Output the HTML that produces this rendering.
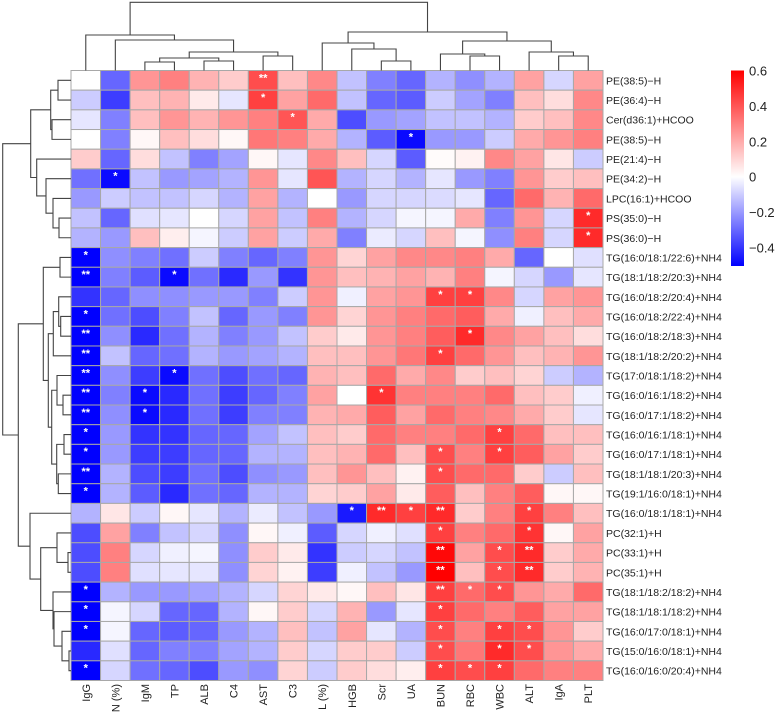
<!DOCTYPE html>
<html><head><meta charset="utf-8"><style>
html,body{margin:0;padding:0;background:#fff;}
svg{display:block;font-family:"Liberation Sans",Arial,sans-serif;}
</style></head><body>
<svg id="chart" width="778" height="718" viewBox="0 0 778 718" xmlns="http://www.w3.org/2000/svg">
<g id="cells"></g>
<g id="stars"></g>
<g id="collabels"></g>
<g id="rowlabels"></g>
<g id="coldendro"></g>
<g id="rowdendro"></g>
<g id="legend"></g>
</svg>
<script>
const columns = ["IgG","N (%)","IgM","TP","ALB","C4","AST","C3","L (%)","HGB","Scr","UA","BUN","RBC","WBC","ALT","IgA","PLT"];
const rows = ["PE(38:5)−H","PE(36:4)−H","Cer(d36:1)+HCOO","PE(38:5)−H","PE(21:4)−H","PE(34:2)−H","LPC(16:1)+HCOO","PS(35:0)−H","PS(36:0)−H",
"TG(16:0/18:1/22:6)+NH4","TG(18:1/18:2/20:3)+NH4","TG(16:0/18:2/20:4)+NH4","TG(16:0/18:2/22:4)+NH4","TG(16:0/18:2/18:3)+NH4","TG(18:1/18:2/20:2)+NH4",
"TG(17:0/18:1/18:2)+NH4","TG(16:0/16:1/18:2)+NH4","TG(16:0/17:1/18:2)+NH4","TG(16:0/16:1/18:1)+NH4","TG(16:0/17:1/18:1)+NH4","TG(18:1/18:1/20:3)+NH4",
"TG(19:1/16:0/18:1)+NH4","TG(16:0/18:1/18:1)+NH4","PC(32:1)+H","PC(33:1)+H","PC(35:1)+H","TG(18:1/18:2/18:2)+NH4","TG(18:1/18:1/18:2)+NH4",
"TG(16:0/17:0/18:1)+NH4","TG(15:0/16:0/18:1)+NH4","TG(16:0/16:0/20:4)+NH4"];
const values = [
[0.0,-0.3,0.25,0.3,0.18,0.12,0.42,0.15,0.28,-0.12,-0.25,-0.3,-0.15,-0.22,-0.15,0.22,-0.08,0.22],
[-0.1,-0.38,0.15,0.18,0.05,-0.05,0.45,0.22,0.35,-0.12,-0.3,-0.32,-0.1,-0.18,-0.25,0.15,0.08,0.28],
[-0.05,-0.25,0.15,0.25,0.18,0.25,0.3,0.4,0.2,-0.35,-0.2,-0.18,-0.12,-0.12,-0.15,0.12,0.15,0.28],
[0.0,-0.25,0.02,0.15,0.08,0.02,0.32,0.3,0.2,-0.15,-0.32,-0.48,-0.2,-0.2,-0.1,0.2,0.25,0.3],
[0.12,-0.3,0.08,-0.12,-0.25,-0.18,0.02,-0.05,0.28,0.15,-0.08,-0.32,0.01,0.03,0.28,0.22,0.06,-0.1],
[-0.28,-0.48,-0.12,-0.2,-0.18,-0.15,0.25,-0.05,0.4,-0.15,-0.08,-0.15,-0.05,-0.2,-0.25,0.25,0.12,0.15],
[-0.2,-0.1,-0.12,-0.12,-0.08,-0.15,0.22,-0.15,0.0,-0.2,-0.08,-0.08,-0.07,-0.05,-0.3,0.35,0.18,0.35],
[-0.12,-0.3,-0.06,-0.05,0.0,-0.08,0.22,-0.12,0.3,-0.15,-0.08,-0.02,-0.02,0.2,-0.25,0.25,-0.08,0.5],
[-0.15,-0.2,0.15,0.04,-0.02,-0.1,0.22,-0.1,0.2,-0.25,-0.04,-0.08,0.15,-0.02,-0.22,0.3,-0.08,0.5],
[-0.5,-0.22,-0.25,-0.28,-0.1,-0.25,-0.3,-0.25,0.25,0.1,0.22,0.28,0.28,0.3,0.2,-0.3,0.0,-0.06],
[-0.55,-0.25,-0.32,-0.48,-0.28,-0.42,-0.2,-0.4,0.25,0.15,0.18,0.22,0.18,0.3,-0.02,-0.08,-0.2,-0.05],
[-0.4,-0.3,-0.22,-0.22,-0.2,-0.2,-0.25,-0.1,0.25,-0.03,0.22,0.25,0.45,0.45,0.28,-0.08,0.22,0.25],
[-0.55,-0.28,-0.35,-0.25,-0.12,-0.3,-0.2,-0.25,0.25,0.1,0.25,0.3,0.35,0.38,0.2,-0.03,0.15,0.2],
[-0.55,-0.22,-0.42,-0.28,-0.15,-0.25,-0.2,-0.12,0.12,0.05,0.25,0.3,0.38,0.5,0.28,0.22,0.15,0.08],
[-0.55,-0.12,-0.3,-0.28,-0.15,-0.2,-0.18,-0.15,0.15,0.15,0.25,0.32,0.45,0.35,0.25,0.15,0.18,0.25],
[-0.55,-0.22,-0.38,-0.48,-0.28,-0.35,-0.28,-0.3,0.18,0.15,0.35,0.2,0.28,0.12,0.15,0.1,-0.1,-0.15],
[-0.55,-0.25,-0.48,-0.42,-0.28,-0.38,-0.3,-0.25,0.22,0.0,0.48,0.3,0.3,0.3,0.35,0.15,0.12,-0.03],
[-0.55,-0.22,-0.48,-0.42,-0.28,-0.38,-0.25,-0.25,0.18,0.2,0.38,0.22,0.35,0.3,0.28,0.2,0.12,-0.05],
[-0.52,-0.2,-0.4,-0.4,-0.3,-0.3,-0.18,-0.12,0.15,0.12,0.35,0.3,0.3,0.35,0.45,0.35,0.15,0.15],
[-0.52,-0.2,-0.38,-0.38,-0.3,-0.3,-0.15,-0.15,0.15,0.18,0.35,0.15,0.42,0.3,0.45,0.38,0.22,0.12],
[-0.55,-0.15,-0.35,-0.38,-0.28,-0.35,-0.22,-0.2,0.15,0.25,0.15,0.03,0.42,0.35,0.35,0.12,-0.1,0.15],
[-0.52,-0.15,-0.32,-0.42,-0.28,-0.3,-0.15,-0.15,0.1,0.12,0.22,0.05,0.38,0.15,0.3,0.38,0.02,0.02],
[-0.15,0.06,-0.1,0.02,-0.05,-0.15,-0.04,-0.12,-0.2,-0.45,0.5,0.45,0.5,0.12,0.3,0.45,0.3,0.15],
[-0.35,0.22,-0.25,-0.12,-0.08,-0.22,0.02,-0.03,-0.32,-0.08,-0.03,-0.06,0.45,0.3,0.35,0.48,0.02,0.22],
[-0.35,0.3,-0.08,-0.03,-0.02,-0.22,0.12,0.05,-0.4,-0.1,-0.08,-0.12,0.58,0.22,0.42,0.5,0.12,0.2],
[-0.35,0.3,-0.06,-0.05,-0.05,-0.22,0.1,0.03,-0.38,-0.03,-0.12,-0.2,0.6,0.15,0.42,0.5,0.12,0.18],
[-0.52,-0.15,-0.2,-0.2,-0.18,-0.15,-0.08,0.1,0.05,0.02,0.15,0.06,0.45,0.35,0.42,0.25,0.2,0.35],
[-0.52,-0.02,-0.08,-0.3,-0.3,-0.15,0.02,0.12,-0.08,0.18,-0.2,-0.05,0.45,0.35,0.3,0.38,0.22,0.22],
[-0.52,-0.02,-0.3,-0.32,-0.3,-0.2,-0.15,0.15,-0.12,0.22,-0.05,-0.15,0.42,0.3,0.45,0.42,0.25,0.12],
[-0.42,-0.06,-0.3,-0.25,-0.25,-0.18,-0.15,0.12,-0.08,0.12,0.12,-0.1,0.42,0.32,0.5,0.42,0.25,0.2],
[-0.52,-0.08,-0.28,-0.3,-0.35,-0.2,-0.22,0.1,-0.1,0.12,0.08,0.04,0.45,0.42,0.45,0.35,0.3,0.3]
];
// significance marks: "row,col,mark"
const stars = ["0,6,**","1,6,*","2,7,*","3,11,*","5,1,*","7,17,*","8,17,*",
"9,0,*","10,0,**","10,3,*","11,12,*","11,13,*","12,0,*","13,0,**","13,13,*","14,0,**","14,12,*",
"15,0,**","15,3,*","16,0,**","16,2,*","16,10,*","17,0,**","17,2,*","18,0,*","18,14,*","19,0,*","19,12,*","19,14,*",
"20,0,**","20,12,*","21,0,*","22,9,*","22,10,**","22,11,*","22,12,**","22,15,*","23,12,*","23,15,*",
"24,12,**","24,14,*","24,15,**","25,12,**","25,14,*","25,15,**","26,0,*","26,12,**","26,13,*","26,14,*",
"27,0,*","27,12,*","28,0,*","28,12,*","28,14,*","28,15,*","29,12,*","29,14,*","29,15,*","30,0,*","30,12,*","30,13,*","30,14,*"];
// dendrogram merges: [childA, childB, position]
const colMerges = [[2,3,62],[4,5,61],[18,19,58],[6,7,56],[20,21,52],[1,22,40],[0,23,35],[10,11,61],[9,25,49],[8,26,43],[13,14,56],[12,28,54],[16,17,56],[15,30,52],[29,31,41],[27,32,32],[24,33,2.3]];
const rowMerges = [[0,1,58],[2,3,52],[31,32,50.7],[7,8,59],[6,34,53],[5,35,46],[4,36,36.7],[33,37,30.7],[9,10,60],[12,13,60.7],[11,40,58.7],[41,14,53.3],[16,17,63],[15,43,57],[18,19,64],[20,21,58.3],[45,46,56.7],[44,47,51.7],[42,48,48.3],[39,49,43.3],[24,25,68],[23,51,57],[29,30,69],[28,53,62],[27,54,54],[26,55,53],[52,56,40.7],[22,57,30],[50,58,18.3],[38,59,2.7]];
const legendTicks = [0.6,0.4,0.2,0,-0.2,-0.4];

const NS="http://www.w3.org/2000/svg";
const X0=71,X1=603,Y0=70.5,Y1=680.5;
const cw=(X1-X0)/columns.length, rh=(Y1-Y0)/rows.length;
const xc=i=>X0+cw*(i+0.5), yc=i=>Y0+rh*(i+0.5);
function color(v){
  let r,g,b;
  if(v>=0){const t=Math.min(v/0.6,1);r=255;g=Math.round(255*(1-t));b=g;}
  else{const t=Math.min(-v/0.5,1);b=255;r=Math.round(255*(1-t));g=r;}
  return `rgb(${r},${g},${b})`;
}
function mk(tag,attrs,parent){const e=document.createElementNS(NS,tag);for(const k in attrs)e.setAttribute(k,attrs[k]);parent.appendChild(e);return e;}

const cellsG=document.getElementById('cells');
values.forEach((row,i)=>row.forEach((v,j)=>{
  const r=mk('rect',{x:X0+cw*j,y:Y0+rh*i,width:cw,height:rh,fill:color(v),stroke:'#a8a8a8','stroke-width':1},cellsG);
  
  
}));
const starG=document.getElementById('stars');
stars.forEach(s=>{
  const [ri,ci,m]=s.split(',');
  const t=mk('text',{x:xc(+ci),y:yc(+ri)+1,'text-anchor':'middle','font-size':11,'font-weight':'bold',fill:'#fff'},starG);
  t.textContent=m;
  
  
});
const colG=document.getElementById('collabels');
columns.forEach((c,j)=>{
  const t=mk('text',{transform:`translate(${xc(j)+4},684) rotate(-90)`,'text-anchor':'end','font-size':11,fill:'#222'},colG);
  t.textContent=c;
  
  
});
const rowG=document.getElementById('rowlabels');
rows.forEach((r,i)=>{
  const t=mk('text',{x:606,y:yc(i)+4,'font-size':10.5,fill:'#222'},rowG);
  t.textContent=r;
  
  
});
function dendro(merges,n,leafPos,leafLine,g,vertical){
  const pos=[],h=[];
  for(let i=0;i<n;i++){pos.push(leafPos(i));h.push(leafLine);}
  let d='';
  merges.forEach(([a,b,p])=>{
    if(vertical){ // column dendro: pos=x, h=y
      d+=`M${pos[a]},${h[a]}V${p}H${pos[b]}V${h[b]}`;
    } else {
      d+=`M${h[a]},${pos[a]}H${p}V${pos[b]}H${h[b]}`;
    }
    pos.push((pos[a]+pos[b])/2);h.push(p);
  });
  const path=mk('path',{d:d,fill:'none',stroke:'#444','stroke-width':1.1},g);
  
  
}
dendro(colMerges,columns.length,xc,Y0,document.getElementById('coldendro'),true);
dendro(rowMerges,rows.length,yc,X0,document.getElementById('rowdendro'),false);

const lg=document.getElementById('legend');
const defs=mk('defs',{},lg);
const grad=mk('linearGradient',{id:'cb',x1:0,y1:0,x2:0,y2:1},defs);
[[0,0.6],[0.6/1.105,0],[1,-0.505]].forEach(([o,v])=>mk('stop',{offset:o,'stop-color':color(v)},grad));
const LT=70.5,LB=266,vmax=0.6,vmin=-0.505;
const ly=v=>LT+(vmax-v)/(vmax-vmin)*(LB-LT);
const bar=mk('rect',{x:731,y:LT,width:13,height:LB-LT,fill:'url(#cb)'},lg);


legendTicks.forEach(v=>{
  const t=mk('text',{x:749,y:ly(v)+5,'font-size':13,fill:'#222'},lg);
  t.textContent=v<0?'−'+Math.abs(v):String(v);
  
  
});
</script>
</body></html>
